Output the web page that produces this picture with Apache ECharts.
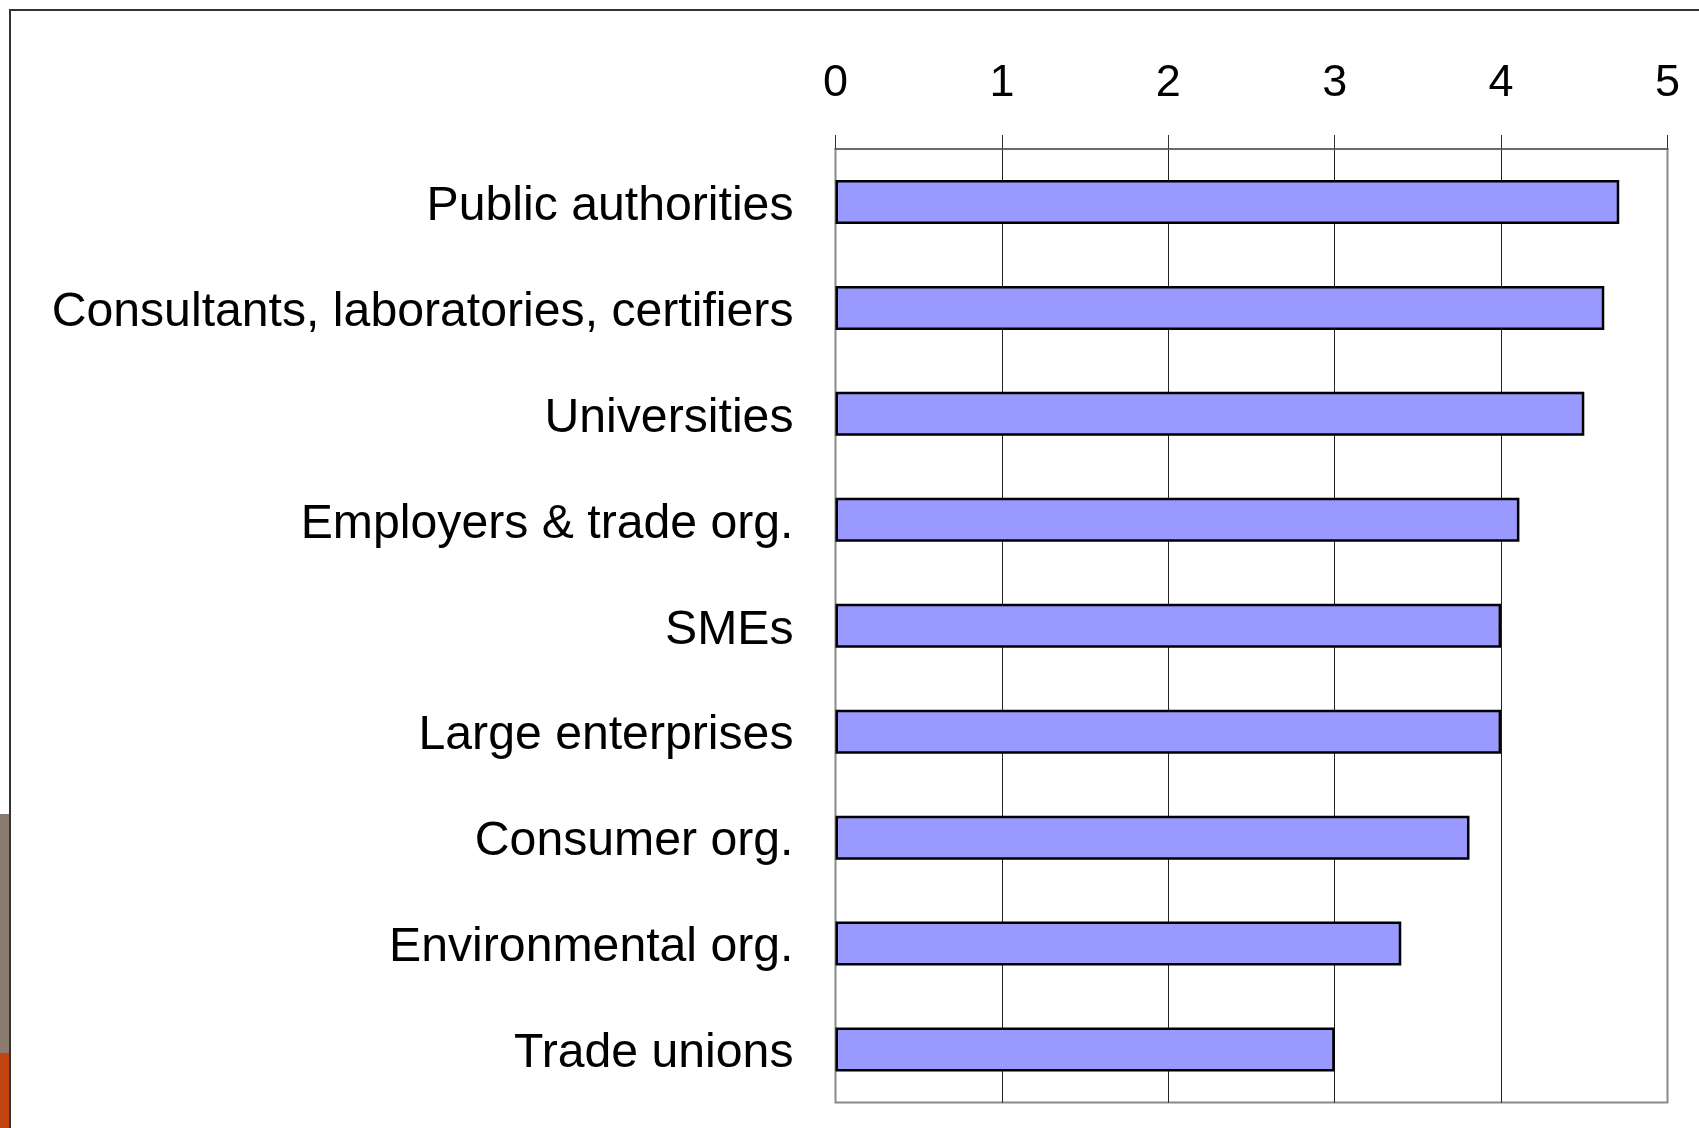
<!DOCTYPE html>
<html>
<head>
<meta charset="utf-8">
<script src="https://cdn.jsdelivr.net/npm/echarts@6/dist/echarts.min.js"></script>
<style>
html,body{margin:0;padding:0;background:#fff;}
#chart{width:1699px;height:1128px;}
</style>
</head>
<body>
<div id="chart"></div>
<script>
const categories = [
  "Public authorities",
  "Consultants, laboratories, certifiers",
  "Universities",
  "Employers & trade org.",
  "SMEs",
  "Large enterprises",
  "Consumer org.",
  "Environmental org.",
  "Trade unions"
];
const values = [4.71, 4.62, 4.5, 4.11, 4.0, 4.0, 3.81, 3.4, 3.0];
const tickLabels = ["0", "1", "2", "3", "4", "5"];

const chart = echarts.init(document.getElementById('chart'), null, {renderer: 'canvas'});
const FONT = '"Liberation Sans", Arial, sans-serif';
chart.setOption({
  animation: false,
  backgroundColor: '#ffffff',
  grid: {
    left: 835.5, right: 31.5, top: 149, bottom: 25.5,
    show: true, borderColor: '#8a8a8a', borderWidth: 2, backgroundColor: 'transparent'
  },
  xAxis: {
    type: 'value',
    position: 'top',
    min: 0, max: 5, interval: 1,
    axisLine: {show: true, lineStyle: {color: '#6a6a6a', width: 2}},
    axisTick: {show: true, length: 14, lineStyle: {color: '#333', width: 1}},
    axisLabel: {
      margin: 43, fontSize: 45, color: '#000', fontFamily: FONT,
      formatter: function (v) { return tickLabels[Math.round(v)]; }
    },
    splitLine: {show: true, showMinLine: false, showMaxLine: false, lineStyle: {color: '#222', width: 1}}
  },
  yAxis: {
    type: 'category',
    data: categories,
    inverse: true,
    axisLine: {show: false},
    axisTick: {show: false},
    axisLabel: {margin: 42, fontSize: 48.2, color: '#000', fontFamily: FONT, verticalAlign: 'top', lineHeight: 9}
  },
  series: [{
    type: 'bar',
    data: values,
    barWidth: 44,
    itemStyle: {color: '#9999ff', borderColor: '#000', borderWidth: 2.5}
  }],
  graphic: [
    {type: 'rect', shape: {x: 0, y: 814, width: 9, height: 239}, style: {fill: '#8b7a70'}, silent: true},
    {type: 'rect', shape: {x: 0, y: 1053, width: 9, height: 75}, style: {fill: '#c0450f'}, silent: true},
    {type: 'line', shape: {x1: 9, y1: 10, x2: 1699, y2: 10}, style: {stroke: '#333', lineWidth: 2}, silent: true},
    {type: 'line', shape: {x1: 10, y1: 9, x2: 10, y2: 1128}, style: {stroke: '#333', lineWidth: 2}, silent: true}
  ]
});
</script>
</body>
</html>
